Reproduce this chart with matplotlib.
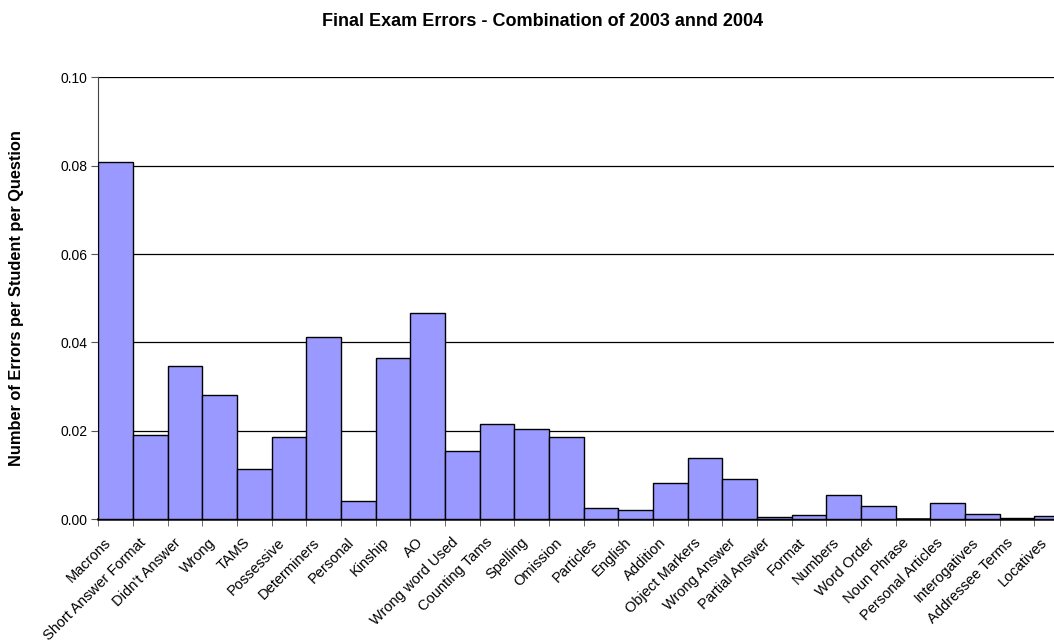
import numpy as np
import matplotlib
matplotlib.use('Agg')
import matplotlib.pyplot as plt

plt.rcParams['font.family'] = ['Liberation Sans', 'DejaVu Sans']

categories = ['Macrons', 'Short Answer Format', "Didn't Answer", 'Wrong', 'TAMS',
              'Possessive', 'Determiners', 'Personal', 'Kinship', 'AO',
              'Wrong word Used', 'Counting Tams', 'Spelling', 'Omission',
              'Particles', 'English', 'Addition', 'Object Markers', 'Wrong Answer',
              'Partial Answer', 'Format', 'Numbers', 'Word Order', 'Noun Phrase',
              'Personal Articles', 'Interogatives', 'Addressee Terms', 'Locatives']
errors = [0.0809, 0.0191, 0.0346, 0.0282, 0.0114,
          0.0186, 0.0412, 0.0041, 0.0366, 0.0467,
          0.0155, 0.0215, 0.0205, 0.0187,
          0.0025, 0.0021, 0.0083, 0.0139, 0.0091,
          0.0005, 0.0010, 0.0054, 0.0029, 0.0,
          0.0037, 0.0013, 0.0002, 0.0007]
yticks = [0.00, 0.02, 0.04, 0.06, 0.08, 0.10]

W, H = 1054, 644
fig = plt.figure(figsize=(W / 100, H / 100), dpi=100)
# plot area in pixels (the right end runs past the picture edge, as in the original)
left, right, top, bottom = 98.3, 1069.0, 77.3, 519.3
ax = fig.add_axes([left / W, 1 - bottom / H, (right - left) / W, (bottom - top) / H])

n = len(categories)
x = np.arange(n)
ax.bar(x, errors, width=1.0, color='#9999ff', edgecolor='black', linewidth=1.0, zorder=3)

ax.set_xlim(-0.5, n - 0.5)
ax.set_ylim(0, 0.10)
ax.set_yticks(yticks)
ax.set_yticklabels(['%.2f' % v for v in yticks], fontsize=10)
for v in yticks[1:]:
    ax.axhline(v, color='black', linewidth=0.9, zorder=1)

# category labels, rotated 45 degrees, ending just left of each bar centre
ax.set_xticks(x)
ax.set_xticklabels([])
ax.tick_params(axis='x', which='major', length=0)
for xi, name in zip(x, categories):
    ax.annotate(name, xy=(xi, 0), xycoords=('data', 'axes fraction'),
                xytext=(-6.5, -21), textcoords='offset pixels',
                rotation=45, ha='right', va='center', rotation_mode='anchor',
                fontsize=10.5, annotation_clip=False)
ax.set_xticks(np.arange(n + 1) - 0.5, minor=True)
ax.tick_params(axis='x', which='minor', length=5, color='#555555')
ax.tick_params(axis='y', length=5, pad=3, color='#555555')

for s in ['top', 'right']:
    ax.spines[s].set_visible(False)
ax.spines['left'].set_color('#444444')
ax.spines['bottom'].set_linewidth(1.8)
ax.set_facecolor('white')

fig.text(543 / W, 1 - 21 / H, 'Final Exam Errors - Combination of 2003 annd 2004',
         ha='center', va='center', fontsize=13, fontweight='bold')
fig.text(16.5 / W, 1 - 298 / H, 'Number of Errors per Student per Question',
         ha='center', va='center', rotation=90, fontsize=11.8, fontweight='bold')

fig.savefig('out.png', dpi=100)
